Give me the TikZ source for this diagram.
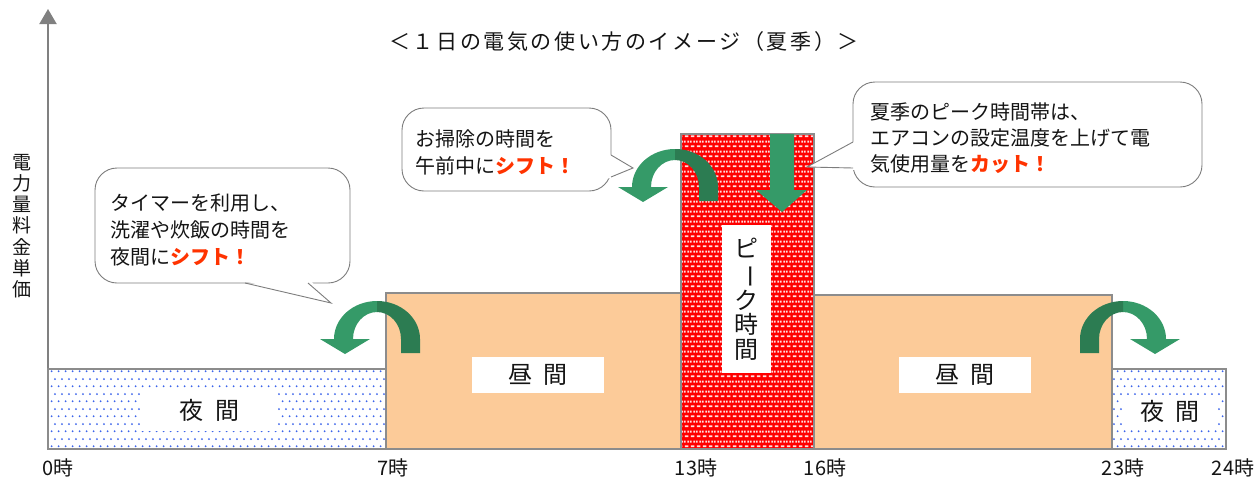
\documentclass[tikz,border=0pt]{standalone}
\usepackage{fontspec}
\newfontfamily\jp{Noto Sans CJK JP}
\usetikzlibrary{patterns,arrows.meta}
\definecolor{gl}{RGB}{53,154,104}
\definecolor{gd}{RGB}{44,124,82}
\definecolor{peach}{RGB}{252,203,153}
\definecolor{blk}{RGB}{140,140,140}
\definecolor{dotblue}{RGB}{60,100,235}
\definecolor{shiftred}{RGB}{255,51,0}
\definecolor{axisgray}{RGB}{128,128,128}
\definecolor{txt}{RGB}{20,20,20}
\definecolor{cogray}{RGB}{125,125,125}
\pgfdeclarepatternformonly{reddash}{\pgfqpoint{0pt}{0pt}}{\pgfqpoint{6pt}{10pt}}{\pgfqpoint{6pt}{10pt}}{%
 \pgfpathrectangle{\pgfqpoint{1pt}{1pt}}{\pgfqpoint{4pt}{2pt}}%
 \pgfpathrectangle{\pgfqpoint{4pt}{6pt}}{\pgfqpoint{2pt}{2pt}}%
 \pgfpathrectangle{\pgfqpoint{0pt}{6pt}}{\pgfqpoint{2pt}{2pt}}%
 \pgfusepath{fill}}
\pgfdeclarepatternformonly{bluedots}{\pgfqpoint{0pt}{0pt}}{\pgfqpoint{7.3pt}{14.6pt}}{\pgfqpoint{7.3pt}{14.6pt}}{%
 \pgfpathcircle{\pgfqpoint{1.8pt}{1.8pt}}{1.1pt}%
 \pgfpathcircle{\pgfqpoint{5.45pt}{9.1pt}}{1.1pt}%
 \pgfusepath{fill}}
\makeatletter
\newcommand\spacedtitle[1]{\@tfor\sp@c:=#1\do{\sp@c\kern2.6pt}\unkern}
\makeatother
\tikzset{
 blockline/.style={draw=blk, line width=1.2pt},
 co/.style={draw=cogray, line width=0.9pt, fill=white},
 cotext/.style={font=\jp\fontsize{20}{27}\selectfont, text=txt, inner sep=0pt, align=left, anchor=west},
 blocklabel/.style={fill=white, font=\jp\fontsize{24}{24}\selectfont, text=txt, inner sep=0pt},
 timelabel/.style={font=\jp\fontsize{20}{20}\selectfont, text=txt, inner sep=0pt},
 uturn/.pic={
  \fill[gl] (0,-38) arc[start angle=-90,end angle=-180,x radius=43,y radius=38]
    -- (-57,0) -- (-32,15) -- (-7,0) -- (-24,0)
    arc[start angle=-180,end angle=-90,x radius=24,y radius=27] -- cycle;
  \fill[gd] (0,-38) arc[start angle=-90,end angle=0,x radius=43,y radius=38]
    -- (43,14) -- (24,14) -- (24,0)
    arc[start angle=0,end angle=-90,x radius=24,y radius=27] -- cycle;
 }
}
\begin{document}
\begin{tikzpicture}[x=1pt,y=-1pt]
\useasboundingbox (0,0) rectangle (1258,477);
% axis
\coordinate (ybot) at (48,449);
\coordinate (ytop) at (48,9);
\draw[axisgray, line width=2pt, -{Triangle[length=15pt,width=17pt]}] (ybot) -- (ytop);
\node[font=\jp\fontsize{19}{21.2}\selectfont, text=txt, align=center, inner sep=0pt] (ylab) at (22,226) {電\\力\\量\\料\\金\\単\\価};
% title
\node[font=\jp\fontsize{21}{21}\selectfont, text=txt, inner sep=0pt] (title) at (624,42) {\spacedtitle{＜１日の電気の使い方のイメージ（夏季）＞}};
% blocks
\fill[white] (48,369) rectangle (386,449);
\fill[pattern=bluedots, pattern color=dotblue] (48,369) rectangle (386,449);
\draw[blockline] (48,369) rectangle (386,449);
\fill[white] (1112,369) rectangle (1226,449);
\fill[pattern=bluedots, pattern color=dotblue] (1112,369) rectangle (1226,449);
\draw[blockline] (1112,369) rectangle (1226,449);
\fill[peach] (386,293) rectangle (681,449);
\draw[blockline] (386,293) rectangle (681,449);
\fill[peach] (814,295) rectangle (1112,449);
\draw[blockline] (814,295) rectangle (1112,449);
\fill[red] (681,134) rectangle (814,449);
\fill[pattern=reddash, pattern color=white!88!red] (681,134) rectangle (814,449);
\draw[blockline] (681,134) rectangle (814,449);
% block labels
\node[blocklabel, minimum width=138pt, minimum height=41pt] (night1) at (209,410) {夜\hspace{12pt}間};
\node[blocklabel, minimum width=96pt, minimum height=32pt] (night2) at (1170,411) {夜\hspace{11pt}間};
\node[blocklabel, minimum width=132pt, minimum height=36pt] (day1) at (538,375) {昼\hspace{11pt}間};
\node[blocklabel, minimum width=132pt, minimum height=36pt] (day2) at (965,375) {昼\hspace{11pt}間};
\node[blocklabel, minimum width=49pt, minimum height=148pt, align=center, font=\jp\fontsize{24}{24.5}\selectfont] (peak) at (746.5,299) {ピ\\\rotatebox[origin=c]{-90}{ー}\\ク\\時\\間};
% time labels
\node[timelabel] (t0) at (58,468) {0時};
\node[timelabel] (t7) at (393,468) {7時};
\node[timelabel] (t13) at (696,468) {13時};
\node[timelabel] (t16) at (825,468) {16時};
\node[timelabel] (t23) at (1123,468) {23時};
\node[timelabel] (t24) at (1233,468) {24時};
% callout left
\draw[co, rounded corners=22pt] (95,168) rectangle (350,283);
\fill[white] (240,280) -- (331,303) -- (310,280) -- cycle;
\draw[cogray, line width=0.9pt] (245,283) -- (331,303) -- (308,283);
\node[cotext] (c1) at (110,229.5) {タイマーを利用し、\\洗濯や炊飯の時間を\\夜間に{\bfseries\color{shiftred}シフト！}};
% callout middle
\draw[co, rounded corners=22pt] (402,108) rectangle (611,191);
\fill[white] (607,153) -- (633,168) -- (607,179) -- cycle;
\draw[cogray, line width=0.9pt] (611,155) -- (633,168) -- (611,177);
\node[cotext] (c2) at (415,152.5) {お掃除の時間を\\午前中に{\bfseries\color{shiftred}シフト！}};
% callout right
\draw[co, rounded corners=22pt] (853,82) rectangle (1202,187);
\fill[white] (857,140) -- (807,167) -- (857,170) -- cycle;
\draw[cogray, line width=0.9pt] (853,142) -- (807,167) -- (853,168);
\node[cotext, font=\jp\fontsize{20}{26}\selectfont] (c3) at (870,138) {夏季のピーク時間帯は、\\エアコンの設定温度を上げて電\\気使用量を{\bfseries\color{shiftred}カット！}};
% arrows
\pic at (377,339) {uturn};
\pic at (675,187) {uturn};
\pic[xscale=-1] at (1123,339) {uturn};
\fill[gl] (770,134) -- (794,134) -- (794,190) -- (807,190) -- (782,212) -- (756,190) -- (770,190) -- cycle;
\end{tikzpicture}
\end{document}
